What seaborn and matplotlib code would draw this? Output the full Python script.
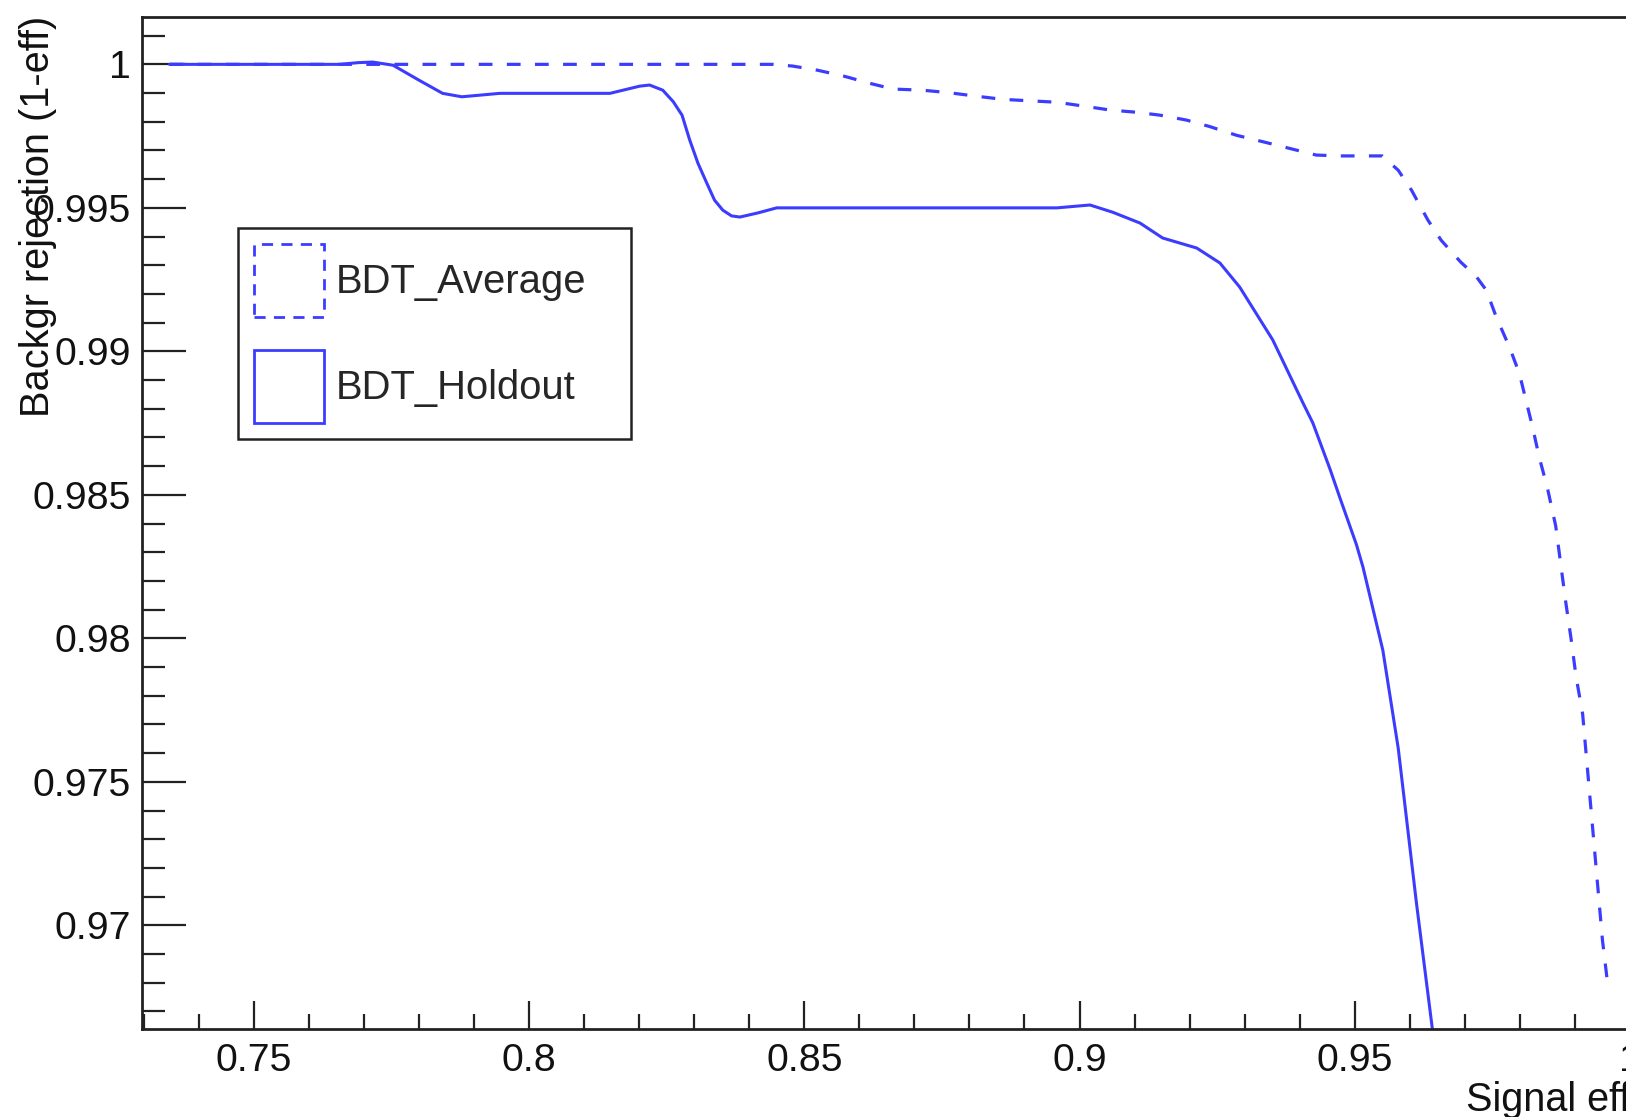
import matplotlib
matplotlib.use("Agg")
import matplotlib.pyplot as plt
from matplotlib.patches import Patch
from matplotlib.ticker import MultipleLocator
import seaborn as sns
import pandas as pd

# ---------------- data ----------------
holdout_eff = [0.7347, 0.7656, 0.7690, 0.7716, 0.7753, 0.7800, 0.7843, 0.7878,
               0.7947, 0.8147, 0.8201, 0.8219, 0.8243, 0.8262, 0.8278, 0.8292,
               0.8307, 0.8323, 0.8337, 0.8352, 0.8368, 0.8383, 0.8415, 0.8450,
               0.8959, 0.9019, 0.9060, 0.9110, 0.9151, 0.9213, 0.9255, 0.9291,
               0.9351, 0.9406, 0.9424, 0.9455, 0.9473, 0.9503, 0.9515, 0.9551,
               0.9579, 0.9612, 0.9641, 0.9645]
holdout_rej = [1.0, 1.0, 1.00006, 1.00008, 0.99997, 0.99945, 0.99899, 0.99887,
               0.99899, 0.99899, 0.99924, 0.99928, 0.9991, 0.9987, 0.99823, 0.99736,
               0.99655, 0.99586, 0.99527, 0.99492, 0.99472, 0.99468, 0.99482, 0.995,
               0.995, 0.9951, 0.99485, 0.99447, 0.99395, 0.9936, 0.99308, 0.99224,
               0.9904, 0.9882, 0.9875, 0.9859, 0.9849, 0.98327, 0.98248, 0.97959,
               0.97617, 0.97079, 0.96639, 0.9657]

average_eff = [0.7347, 0.8443, 0.8479, 0.8523, 0.8570, 0.8619, 0.8661, 0.8715,
               0.8764, 0.8813, 0.8861, 0.8910, 0.8959, 0.9006, 0.9055, 0.9104,
               0.9146, 0.9194, 0.9237, 0.9285, 0.9334, 0.9382, 0.9430, 0.9473,
               0.9550, 0.9579, 0.9603, 0.9633, 0.9657, 0.9692, 0.9721, 0.9739,
               0.9757, 0.9781, 0.9799, 0.9811, 0.9823, 0.9835, 0.9850, 0.9865,
               0.9874, 0.9883, 0.9893, 0.9902, 0.9914, 0.9923, 0.9932, 0.9941,
               0.9950, 0.9959]
average_rej = [1.0, 1.0, 0.99994, 0.9998, 0.9996, 0.99934, 0.99914, 0.9991,
               0.99901, 0.99889, 0.99878, 0.99873, 0.99868, 0.99855, 0.99841, 0.99833,
               0.99823, 0.99806, 0.99783, 0.99753, 0.9973, 0.99707, 0.99684, 0.99681,
               0.99681, 0.99631, 0.99562, 0.99457, 0.99387, 0.99312, 0.9926, 0.99213,
               0.9912, 0.99015, 0.98923, 0.9883, 0.98736, 0.98632, 0.98524, 0.98392,
               0.98261, 0.9813, 0.97998, 0.97867, 0.97736, 0.97539, 0.97342, 0.97145,
               0.96948, 0.96803]

series_names = ["BDT_Average", "BDT_Holdout"]
x_tick_values = [0.75, 0.8, 0.85, 0.9, 0.95, 1.0]
x_tick_labels = ["0.75", "0.8", "0.85", "0.9", "0.95", "1"]
y_tick_values = [0.97, 0.975, 0.98, 0.985, 0.99, 0.995, 1.0]
y_tick_labels = ["0.97", "0.975", "0.98", "0.985", "0.99", "0.995", "1"]
x_title = "Signal eff"
y_title = "Backgr rejection (1-eff)"

# ---------------- style ----------------
sns.set_theme(style="white")
plt.rcParams["font.family"] = ["Liberation Sans", "DejaVu Sans"]
FS = 28.3
LEG_FS = 28.8
LINE_C = "#3c3cff"
FRAME_C = "#222222"

fig = plt.figure(figsize=(16.26, 11.17), dpi=100)
W, H = 1626, 1117
ax_l, ax_r, ax_t, ax_b = 142, 1630, 17, 1029
ax = fig.add_axes([ax_l / W, 1 - ax_b / H, (ax_r - ax_l) / W, (ax_b - ax_t) / H])

df_avg = pd.DataFrame({"eff": average_eff, "rej": average_rej})
df_hold = pd.DataFrame({"eff": holdout_eff, "rej": holdout_rej})

sns.lineplot(data=df_avg, x="eff", y="rej", ax=ax, sort=False, estimator=None,
             color=LINE_C, linewidth=2.3)
ax.lines[-1].set_linestyle((0, (4.3, 4.5)))
sns.lineplot(data=df_hold, x="eff", y="rej", ax=ax, sort=False, estimator=None,
             color=LINE_C, linewidth=2.2)
for ln in ax.lines:
    ln.set_solid_joinstyle("round")

ax.set_xlim(0.7297, 1.0)
ax.set_ylim(0.96639, 1.00165)

ax.set_xticks(x_tick_values, x_tick_labels)
ax.set_yticks(y_tick_values, y_tick_labels)
ax.xaxis.set_minor_locator(MultipleLocator(0.01))
ax.yaxis.set_minor_locator(MultipleLocator(0.001))

ax.tick_params(axis="x", which="major", direction="in", length=20, width=1.6,
               color=FRAME_C, labelsize=FS, pad=10, bottom=True, top=False)
ax.tick_params(axis="x", which="minor", direction="in", length=11, width=1.6,
               color=FRAME_C, bottom=True, top=False)
ax.tick_params(axis="y", which="major", direction="in", length=32, width=1.6,
               color=FRAME_C, labelsize=FS, pad=8, left=True, right=False)
ax.tick_params(axis="y", which="minor", direction="in", length=16.5, width=1.6,
               color=FRAME_C, left=True, right=False)
for lab in ax.get_xticklabels() + ax.get_yticklabels():
    lab.set_color("#111111")

for sp in ax.spines.values():
    sp.set_visible(True)
    sp.set_color(FRAME_C)
    sp.set_linewidth(2.0)

ax.set_xlabel(x_title, fontsize=28.5, loc="right", color="#111111")
ax.set_ylabel(y_title, fontsize=28.6, loc="top", color="#111111")
ax.xaxis.set_label_coords(1.0, -0.051)
ax.yaxis.set_label_coords(-0.057, 1.001)

handles = [
    Patch(facecolor="none", edgecolor=LINE_C, linewidth=2.0, linestyle=(0, (4, 3))),
    Patch(facecolor="none", edgecolor=LINE_C, linewidth=2.0),
]
lx0, lx1, ly0, ly1 = 238, 631, 228, 443
leg = ax.legend(handles, series_names, loc="upper left",
                bbox_to_anchor=(lx0 / W, 1 - ly1 / H, (lx1 - lx0) / W, (ly1 - ly0) / H),
                bbox_transform=fig.transFigure, mode="expand", borderaxespad=0,
                fontsize=LEG_FS, handlelength=1.75, handleheight=2.43,
                handletextpad=0.3, labelspacing=0.83, borderpad=0.4,
                fancybox=False, framealpha=1, shadow=False)
leg.get_frame().set_edgecolor(FRAME_C)
leg.get_frame().set_linewidth(1.8)

fig.savefig("out.png", dpi=100)
